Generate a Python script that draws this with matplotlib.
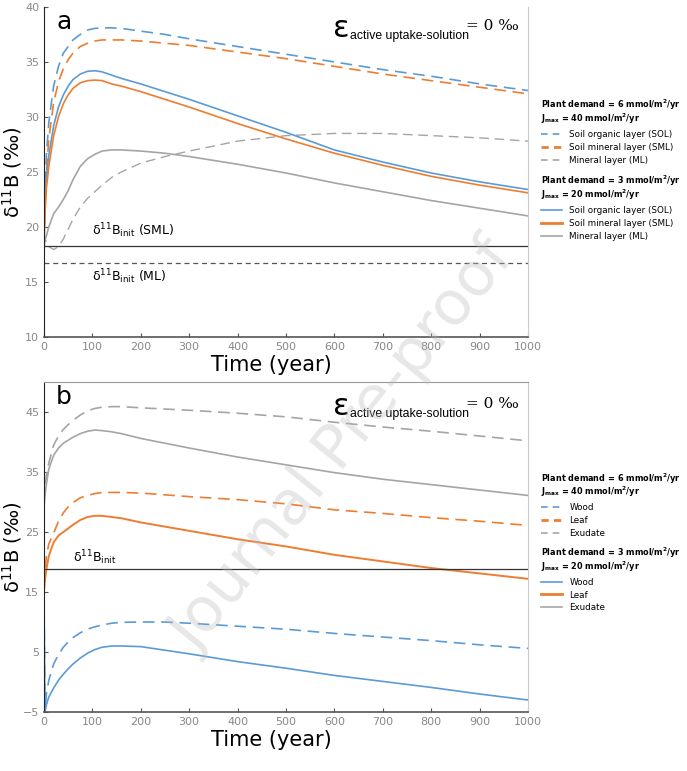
import numpy as np
import matplotlib
matplotlib.use('Agg')
import matplotlib.pyplot as plt
from matplotlib.lines import Line2D

# time grid (years)
t = [0, 2, 5, 10, 20, 30, 40, 50, 60, 75, 90, 105, 120, 140, 160, 200, 250, 300, 400, 500, 600, 700, 800, 900, 1000]

# panel a - soil layers
sol_6 = [19, 23, 26.5, 29.5, 32.8, 34.6, 35.8, 36.4, 37.0, 37.5, 37.9, 38.05, 38.1, 38.1, 38.05, 37.8, 37.5, 37.1, 36.4, 35.7, 35.0, 34.3, 33.7, 33.0, 32.4]
sml_6 = [18.5, 22, 25, 28, 31.3, 33.2, 34.4, 35.2, 35.8, 36.4, 36.7, 36.9, 37.0, 37.0, 37.0, 36.9, 36.7, 36.5, 35.9, 35.3, 34.6, 33.9, 33.3, 32.7, 32.1]
ml_6 = [19.5, 19.0, 18.6, 18.2, 17.95, 18.2, 18.9, 19.8, 20.7, 21.8, 22.6, 23.2, 23.8, 24.5, 25.0, 25.8, 26.4, 26.9, 27.8, 28.3, 28.5, 28.5, 28.3, 28.1, 27.8]
sol_3 = [19, 22, 24.5, 26.5, 29.2, 30.9, 32.0, 32.8, 33.4, 33.9, 34.15, 34.2, 34.1, 33.8, 33.5, 33.0, 32.3, 31.6, 30.1, 28.6, 27.0, 25.9, 24.9, 24.1, 23.4]
sml_3 = [18.3, 21, 23.5, 25.5, 28.3, 30.0, 31.2, 32.0, 32.6, 33.1, 33.3, 33.35, 33.3, 33.0, 32.8, 32.3, 31.6, 30.9, 29.4, 28.0, 26.7, 25.6, 24.6, 23.8, 23.1]
ml_3 = [18.0, 18.8, 19.2, 20.0, 21.2, 21.8, 22.5, 23.3, 24.3, 25.5, 26.2, 26.6, 26.9, 27.0, 27.0, 26.9, 26.7, 26.4, 25.7, 24.9, 24.0, 23.2, 22.4, 21.7, 21.0]
init_sml = 18.3
init_ml = 16.75

# panel b - plant compartments
wood_6 = [15, -5, -2, 0.3, 3.0, 4.6, 5.8, 6.7, 7.4, 8.2, 8.8, 9.2, 9.5, 9.8, 9.95, 10.0, 10.0, 9.8, 9.3, 8.8, 8.1, 7.5, 6.9, 6.2, 5.6]
leaf_6 = [16, 18.5, 21, 23.0, 24.8, 26.8, 28.2, 29.2, 29.9, 30.7, 31.1, 31.4, 31.6, 31.6, 31.6, 31.5, 31.2, 30.9, 30.4, 29.7, 28.7, 28.1, 27.4, 26.8, 26.1]
exu_6 = [30, 32.5, 34.5, 36.5, 39.5, 41.0, 42.1, 42.9, 43.6, 44.5, 45.2, 45.6, 45.8, 45.9, 45.9, 45.7, 45.5, 45.3, 44.8, 44.2, 43.3, 42.5, 41.8, 41.0, 40.2]
wood_3 = [15, -5, -3.8, -2.5, -1.0, 0.3, 1.3, 2.2, 3.0, 4.0, 4.8, 5.4, 5.8, 6.0, 6.0, 5.9, 5.3, 4.7, 3.4, 2.3, 1.1, 0.1, -0.9, -2.0, -3.0]
leaf_3 = [15, 17, 18.8, 21.0, 23.3, 24.4, 25.0, 25.6, 26.2, 27.0, 27.5, 27.7, 27.7, 27.5, 27.3, 26.6, 25.9, 25.2, 23.8, 22.6, 21.2, 20.1, 19.0, 18.1, 17.2]
exu_3 = [29, 31, 33, 35.5, 37.8, 39.0, 39.8, 40.3, 40.8, 41.4, 41.8, 42.0, 41.9, 41.7, 41.4, 40.6, 39.8, 39.0, 37.5, 36.2, 34.9, 33.8, 32.9, 32.0, 31.1]
init_b = 18.8

blue = '#5b9bd5'
orange = '#ed7d31'
gray = '#a5a5a5'
dash = (0, (7, 4))

plt.rcParams['font.family'] = ['DejaVu Sans']

fig = plt.figure(figsize=(6.87, 7.71), dpi=100)
ax1 = fig.add_axes([0.064, 0.563, 0.7046, 0.428])
ax2 = fig.add_axes([0.064, 0.0765, 0.7046, 0.428])

hdr6 = 'Plant demand = 6 mmol/m$^\\mathbf{2}$/yr\nJ$_{\\mathbf{max}}$ = 40 mmol/m$^\\mathbf{2}$/yr'
hdr3 = 'Plant demand = 3 mmol/m$^\\mathbf{2}$/yr\nJ$_{\\mathbf{max}}$ = 20 mmol/m$^\\mathbf{2}$/yr'


def style_axes(ax, ylim, yticks, boxed):
    ax.set_xlim(0, 1000)
    ax.set_ylim(*ylim)
    ax.set_xticks(range(0, 1001, 100))
    ax.set_yticks(yticks)
    ax.tick_params(direction='in', length=3, labelsize=8, labelcolor='#888888', color='#555555')
    ax.spines['left'].set_color('#222222')
    ax.spines['bottom'].set_color('#555555')
    ax.spines['bottom'].set_linewidth(1.2)
    ax.spines['right'].set_color('#cccccc')
    ax.spines['top'].set_visible(boxed)
    ax.spines['top'].set_color('#999999')
    ax.set_xlabel('Time (year)', fontsize=15)
    ax.xaxis.set_label_coords(0.47, -0.055)
    ax.set_ylabel('δ$^{11}$B (‰)', fontsize=14)
    ax.yaxis.set_label_coords(-0.041, 0.5)


def add_epsilon(ax, yc):
    ax.text(0.597, yc, 'ε', transform=ax.transAxes, fontsize=22, va='center', ha='left')
    ax.text(0.633, yc - 0.022, 'active uptake-solution', transform=ax.transAxes, fontsize=8.8,
            va='center', ha='left', family='Liberation Sans')
    ax.text(0.872, yc + 0.008, '= 0 ‰', transform=ax.transAxes, fontsize=11, va='center', ha='left',
            family='DejaVu Serif')


def add_legends(ax, names, y1, y2):
    h6 = [Line2D([], [], color=c, ls=d, lw=lw)
          for c, lw, d in zip([blue, orange, gray], [1.2, 2.0, 1.2], [(0, (4, 3)), (0, (2.6, 1.9)), (0, (4, 3))])]
    h3 = [Line2D([], [], color=c, lw=lw) for c, lw in zip([blue, orange, gray], [1.2, 2.0, 1.2])]
    kw = dict(loc='upper left', frameon=False, fontsize=6.3, handlelength=2.5, handletextpad=0.8,
              labelspacing=0.45, borderaxespad=0, borderpad=0, alignment='left',
              title_fontproperties={'weight': 'bold', 'size': 5.9})
    l1 = ax.legend(h6, names, bbox_to_anchor=(1.026, y1), title=hdr6, **kw)
    l1.get_title().set_linespacing(0.95)
    ax.add_artist(l1)
    l2 = ax.legend(h3, names, bbox_to_anchor=(1.026, y2), title=hdr3, **kw)
    l2.get_title().set_linespacing(0.95)


# ---- panel a
ax1.plot(t, sol_6, color=blue, ls=dash, lw=1.2)
ax1.plot(t, sml_6, color=orange, ls=dash, lw=1.2)
ax1.plot(t, ml_6, color=gray, ls=dash, lw=1.0)
ax1.plot(t, sol_3, color=blue, lw=1.2)
ax1.plot(t, sml_3, color=orange, lw=1.2)
ax1.plot(t, ml_3, color=gray, lw=1.2)
ax1.axhline(init_sml, color='#333333', lw=0.9)
ax1.axhline(init_ml, color='#555555', lw=0.9, ls=(0, (4, 3)))
ax1.text(100, init_sml + 0.5, 'δ$^{11}$B$_{\\mathrm{init}}$ (SML)', fontsize=9, va='bottom')
ax1.text(100, init_ml - 0.4, 'δ$^{11}$B$_{\\mathrm{init}}$ (ML)', fontsize=9, va='top')
ax1.text(0.025, 0.955, 'a', transform=ax1.transAxes, fontsize=18, va='center')
style_axes(ax1, (10, 40), range(10, 41, 5), False)
add_epsilon(ax1, 0.935)
add_legends(ax1, ['Soil organic layer (SOL)', 'Soil mineral layer (SML)', 'Mineral layer (ML)'], 0.725, 0.495)

# ---- panel b
ax2.plot(t, wood_6, color=blue, ls=dash, lw=1.2)
ax2.plot(t, leaf_6, color=orange, ls=dash, lw=1.2)
ax2.plot(t, exu_6, color=gray, ls=dash, lw=1.2)
ax2.plot(t, wood_3, color=blue, lw=1.2)
ax2.plot(t, leaf_3, color=orange, lw=1.4)
ax2.plot(t, exu_3, color=gray, lw=1.2)
ax2.axhline(init_b, color='#333333', lw=0.9)
ax2.text(60, init_b + 0.4, 'δ$^{11}$B$_{\\mathrm{init}}$', fontsize=9, va='bottom')
ax2.text(0.025, 0.955, 'b', transform=ax2.transAxes, fontsize=18, va='center')
style_axes(ax2, (-5, 50), range(-5, 46, 10), True)
add_epsilon(ax2, 0.925)
add_legends(ax2, ['Wood', 'Leaf', 'Exudate'], 0.73, 0.505)

# watermark
fig.text(0.5, 0.42, 'Journal Pre-proof', fontsize=44, color='#bbbbbb', alpha=0.35,
         rotation=51, ha='center', va='center')

fig.savefig('out.png', dpi=100)
